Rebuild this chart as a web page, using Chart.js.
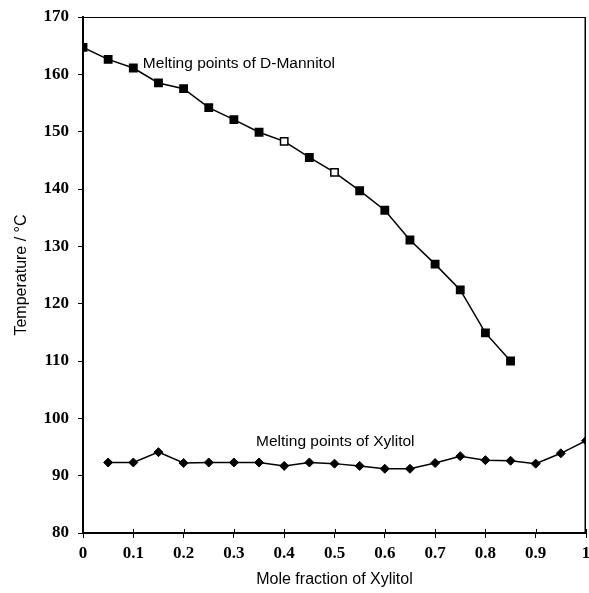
<!DOCTYPE html>
<html>
<head>
<meta charset="utf-8">
<script src="https://cdn.jsdelivr.net/npm/chart.js@4/dist/chart.umd.min.js"></script>
<style>
html,body{margin:0;padding:0;background:#fff;}
#wrap{width:589px;height:593px;position:relative;}
</style>
</head>
<body>
<div id="wrap"><canvas id="c" width="589" height="593"></canvas></div>
<script>
const xMannitol = [0, 0.05, 0.1, 0.15, 0.2, 0.25, 0.3, 0.35, 0.4, 0.45, 0.5, 0.55, 0.6, 0.65, 0.7, 0.75, 0.8, 0.85];
const tMannitol = [164.7, 162.6, 161.1, 158.5, 157.5, 154.2, 152.1, 149.9, 148.3, 145.5, 142.9, 139.7, 136.3, 131.1, 126.9, 122.4, 114.9, 110.0];
const xXylitol = [0.05, 0.1, 0.15, 0.2, 0.25, 0.3, 0.35, 0.4, 0.45, 0.5, 0.55, 0.6, 0.65, 0.7, 0.75, 0.8, 0.85, 0.9, 0.95, 1.0];
const tXylitol = [92.3, 92.3, 94.1, 92.2, 92.3, 92.3, 92.3, 91.7, 92.3, 92.1, 91.7, 91.2, 91.2, 92.2, 93.4, 92.7, 92.6, 92.1, 93.9, 96.1];
const xTicks = [0, 0.1, 0.2, 0.3, 0.4, 0.5, 0.6, 0.7, 0.8, 0.9, 1];
const yTicks = [80, 90, 100, 110, 120, 130, 140, 150, 160, 170];
const labelMannitol = "Melting points of D-Mannitol";
const labelXylitol = "Melting points of Xylitol";
const xTitle = "Mole fraction of Xylitol";
const yTitle = "Temperature / °C";

const mannitolFill = xMannitol.map(x => (Math.abs(x - 0.4) < 1e-6 || Math.abs(x - 0.5) < 1e-6) ? '#fff' : '#000');

const boxPlugin = {
  id: 'box',
  afterDatasetsDraw(chart) {
    const {ctx, chartArea: a, scales} = chart;
    ctx.save();
    ctx.strokeStyle = '#000';
    ctx.lineWidth = 1;
    ctx.beginPath();
    ctx.moveTo(a.left, a.top + 0.5); ctx.lineTo(a.right, a.top + 0.5);
    ctx.stroke();
    ctx.lineWidth = 1.5;
    ctx.beginPath();
    ctx.moveTo(a.right - 0.75, a.top); ctx.lineTo(a.right - 0.75, a.bottom);
    ctx.stroke();
    ctx.lineWidth = 1;
    xTicks.forEach(v => {
      const px = Math.round(scales.x.getPixelForValue(v)) + 0.5;
      ctx.beginPath(); ctx.moveTo(px, a.bottom); ctx.lineTo(px, a.bottom - 4); ctx.stroke();
    });
    ctx.fillStyle = '#000';
    ctx.font = '15.5px "Liberation Sans", Arial, sans-serif';
    ctx.textBaseline = 'middle';
    ctx.textAlign = 'left';
    ctx.fillText(labelMannitol, scales.x.getPixelForValue(0.119), scales.y.getPixelForValue(161.8));
    ctx.fillText(labelXylitol, scales.x.getPixelForValue(0.344), scales.y.getPixelForValue(96.0));
    ctx.restore();
  }
};

new Chart(document.getElementById('c'), {
  type: 'scatter',
  data: {
    datasets: [
      {
        data: xMannitol.map((x, i) => ({x, y: tMannitol[i]})),
        showLine: true,
        borderColor: '#000',
        borderWidth: 1.5,
        pointStyle: 'rect',
        pointRadius: 5.2,
        pointBackgroundColor: mannitolFill,
        pointBorderColor: '#000',
        pointBorderWidth: 1.5,
        tension: 0
      },
      {
        data: xXylitol.map((x, i) => ({x, y: tXylitol[i]})),
        showLine: true,
        borderColor: '#000',
        borderWidth: 1.5,
        pointStyle: 'rectRot',
        pointRadius: 4.5,
        pointBackgroundColor: '#000',
        pointBorderColor: '#000',
        pointBorderWidth: 1,
        tension: 0
      }
    ]
  },
  options: {
    responsive: false,
    animation: false,
    layout: {autoPadding: false, padding: {top: 17, right: 3, left: 0, bottom: 0}},
    plugins: {legend: {display: false}, tooltip: {enabled: false}},
    scales: {
      x: {
        type: 'linear', min: 0, max: 1,
        afterBuildTicks(s) { s.ticks = xTicks.map(v => ({value: v})); },
        afterFit(s) { s.height = 60; s.paddingRight = 0; s.paddingLeft = 0; },
        border: {color: '#000', width: 2},
        grid: {display: true, drawOnChartArea: false, tickLength: 5, color: '#000', lineWidth: 1},
        ticks: {
          color: '#000', padding: 5, maxRotation: 0,
          font: {family: '"Liberation Serif", "Times New Roman", serif', size: 17, weight: 'bold'},
          callback: v => String(v)
        },
        title: {
          display: true, text: xTitle, color: '#000', padding: {top: 0, bottom: 4},
          font: {family: '"Liberation Sans", Arial, sans-serif', size: 16}
        }
      },
      y: {
        type: 'linear', min: 80, max: 170,
        afterBuildTicks(s) { s.ticks = yTicks.map(v => ({value: v})); },
        afterFit(s) { s.width = 83; s.paddingTop = 0; s.paddingBottom = 0; },
        border: {color: '#000', width: 2},
        grid: {display: true, drawOnChartArea: false, tickLength: 5, color: '#000', lineWidth: 1},
        ticks: {
          color: '#000', padding: 9,
          font: {family: '"Liberation Serif", "Times New Roman", serif', size: 17, weight: 'bold'}
        },
        title: {
          display: true, text: yTitle, color: '#000', padding: {top: 12, bottom: 0},
          font: {family: '"Liberation Sans", Arial, sans-serif', size: 16}
        }
      }
    }
  },
  plugins: [boxPlugin]
});
</script>
</body>
</html>
